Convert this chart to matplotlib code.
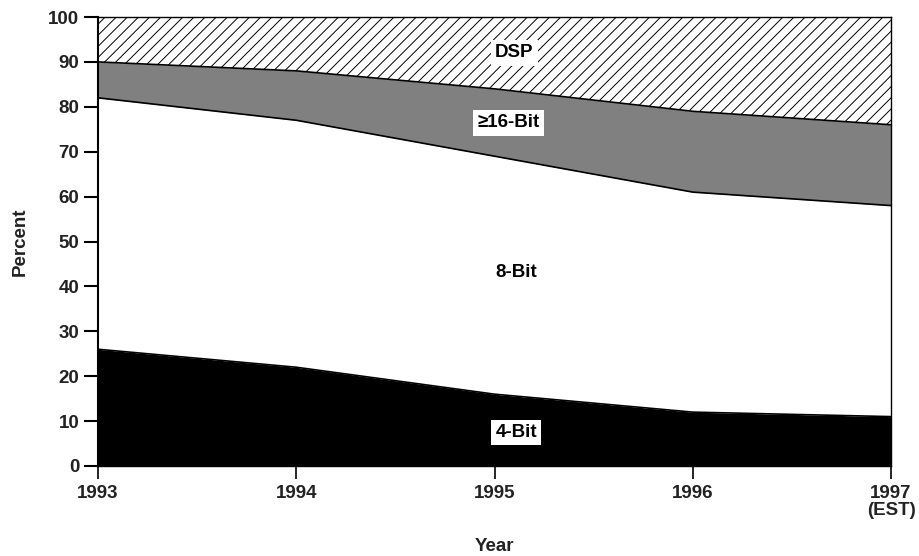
import matplotlib.pyplot as plt
import numpy as np

plt.rcParams['font.family'] = ['Liberation Sans', 'DejaVu Sans']
plt.rcParams['font.weight'] = 'bold'
plt.rcParams['hatch.linewidth'] = 0.7

# 数据
years = [1993, 1994, 1995, 1996, 1997]
year_labels = ['1993', '1994', '1995', '1996', '1997\n(EST)']
bit4 = [26, 22, 16, 12, 11]
bit8 = [56, 55, 53, 49, 47]
bit16 = [8, 11, 15, 18, 18]
dsp = [10, 12, 16, 21, 24]

x = np.array(years)
b1 = np.array(bit4)
b2 = b1 + np.array(bit8)
b3 = b2 + np.array(bit16)
b4 = b3 + np.array(dsp)

txt = '#222222'
fs = 13.5

fig = plt.figure(figsize=(9.19, 5.56), dpi=100)
ax = fig.add_axes([98/919, 90/556, 793/919, 449/556])

ax.fill_between(x, 0, b1, color='black', linewidth=0)
ax.fill_between(x, b1, b2, color='white', linewidth=0)
ax.fill_between(x, b2, b3, color='#808080', linewidth=0)
ax.fill_between(x, b3, b4, facecolor='white', edgecolor='black', hatch='///', linewidth=0)
for b in (b1, b2, b3):
    ax.plot(x, b, color='black', linewidth=1.2)

ax.set_xlim(1993, 1997)
ax.set_ylim(0, 100)
ax.set_xticks(years)
ax.set_xticklabels(year_labels, fontsize=fs, fontweight='bold', linespacing=0.95, color=txt)
ax.set_yticks(range(0, 101, 10))
ax.set_yticklabels([str(v) for v in range(0, 101, 10)], fontsize=fs, fontweight='bold', color=txt)
ax.tick_params(axis='y', length=10, width=1.5, pad=3.5)
ax.tick_params(axis='x', length=9, width=1.2, pad=5)
for s in ('top', 'right'):
    ax.spines[s].set_linewidth(1.0)
ax.spines['left'].set_linewidth(1.5)
ax.spines['bottom'].set_linewidth(1.0)

ax.set_xlabel('Year', fontsize=fs, fontweight='bold', labelpad=14, color=txt)
ax.set_ylabel('Percent', fontsize=fs, fontweight='bold', labelpad=14, color=txt)

box = dict(facecolor='white', edgecolor='none', pad=3)
ax.text(1995.1, 92.0, 'DSP', ha='center', va='center', fontsize=fs, fontweight='bold', bbox=box)
ax.text(1995.07, 76.4, '≥16-Bit', ha='center', va='center', fontsize=fs, fontweight='bold', bbox=box)
ax.text(1995.11, 43.0, '8-Bit', ha='center', va='center', fontsize=fs, fontweight='bold', bbox=box)
ax.text(1995.11, 7.4, '4-Bit', ha='center', va='center', fontsize=fs, fontweight='bold', bbox=box)

plt.savefig('out.png', dpi=100)
